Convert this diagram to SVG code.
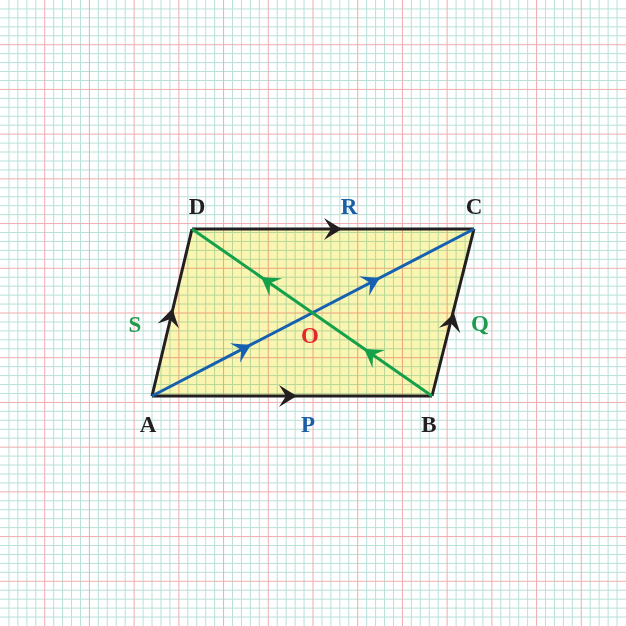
<svg xmlns="http://www.w3.org/2000/svg" xmlns:xlink="http://www.w3.org/1999/xlink" width="626" height="626" viewBox="0 0 626 626">
<style>
.lbl{font-family:"Liberation Serif","Times New Roman",serif;font-weight:bold;font-size:23px;text-anchor:middle}
.k{fill:#231f20}.b{fill:#1a5ea8}.g{fill:#1f9a4e}.r{fill:#e3262b}
.edge{stroke:#231f20;stroke-width:3;fill:none;stroke-linejoin:miter}
.diagB{stroke:#1560b0;stroke-width:3;fill:none}
.diagG{stroke:#15a04a;stroke-width:3;fill:none}
.minor{stroke:#b9e0d9;stroke-width:1;fill:none}
.major{stroke:#eeacb0;stroke-width:1;fill:none}
</style>
<defs>
<path id="ah" d="M0,0 Q-8,-4.6 -18,-11 L-11,0 L-18,11 Q-8,4.6 0,0 Z"/>
<path id="vminor" d="M8.94,0V626M17.89,0V626M26.83,0V626M35.77,0V626M53.66,0V626M62.6,0V626M71.54,0V626M80.49,0V626M98.37,0V626M107.31,0V626M116.26,0V626M125.2,0V626M143.09,0V626M152.03,0V626M160.97,0V626M169.91,0V626M187.8,0V626M196.74,0V626M205.69,0V626M214.63,0V626M232.51,0V626M241.46,0V626M250.4,0V626M259.34,0V626M277.23,0V626M286.17,0V626M295.11,0V626M304.06,0V626M321.94,0V626M330.89,0V626M339.83,0V626M348.77,0V626M366.66,0V626M375.6,0V626M384.54,0V626M393.49,0V626M411.37,0V626M420.31,0V626M429.26,0V626M438.2,0V626M456.09,0V626M465.03,0V626M473.97,0V626M482.91,0V626M500.8,0V626M509.74,0V626M518.69,0V626M527.63,0V626M545.51,0V626M554.46,0V626M563.4,0V626M572.34,0V626M590.23,0V626M599.17,0V626M608.11,0V626M617.06,0V626"/>
<path id="vmajor" d="M44.71,0V626M89.43,0V626M134.14,0V626M178.86,0V626M223.57,0V626M268.29,0V626M313,0V626M357.71,0V626M402.43,0V626M447.14,0V626M491.86,0V626M536.57,0V626M581.29,0V626"/>
</defs>
<rect width="626" height="626" fill="#ffffff"/>
<g id="grid">
<use href="#vminor" xlink:href="#vminor" class="minor"/>
<use href="#vminor" xlink:href="#vminor" class="minor" transform="matrix(0,1,1,0,0,0)"/>
<use href="#vmajor" xlink:href="#vmajor" class="major"/>
<use href="#vmajor" xlink:href="#vmajor" class="major" transform="matrix(0,1,1,0,0,0)"/>
</g>
<g id="parallelogram-ABCD">
<polygon points="152,396 432,396 474,229 192,229" fill="#fbf5b2" style="mix-blend-mode:multiply"/>
</g>
<g id="connectors">
<g id="edge-AB"><line class="edge" x1="152" y1="396" x2="432" y2="396"/><use xlink:href="#ah" href="#ah" fill="#231f20" transform="translate(297,396)"/></g>
<g id="edge-DC"><line class="edge" x1="192" y1="229" x2="474" y2="229"/><use xlink:href="#ah" href="#ah" fill="#231f20" transform="translate(342,229)"/></g>
<g id="edge-AD"><line class="edge" x1="152" y1="396" x2="192" y2="229"/><use xlink:href="#ah" href="#ah" fill="#231f20" transform="translate(172.5,308.5) rotate(-76.5)"/></g>
<g id="edge-BC"><line class="edge" x1="432" y1="396" x2="474" y2="229"/><use xlink:href="#ah" href="#ah" fill="#231f20" transform="translate(454,313) rotate(-75.9)"/></g>
<g id="diag-AC"><line class="diagB" x1="152" y1="396" x2="474" y2="229"/>
<use xlink:href="#ah" href="#ah" fill="#1560b0" transform="translate(251,344.7) rotate(-27.4)"/>
<use xlink:href="#ah" href="#ah" fill="#1560b0" transform="translate(380,277.8) rotate(-27.4)"/></g>
<g id="diag-BD"><line class="diagG" x1="432" y1="396" x2="192" y2="229"/>
<use xlink:href="#ah" href="#ah" fill="#15a04a" transform="translate(261,277) rotate(-145.2)"/>
<use xlink:href="#ah" href="#ah" fill="#15a04a" transform="translate(364,348.7) rotate(-145.2)"/></g>
</g>
<g id="node-A"><text class="lbl k" x="148" y="432">A</text></g>
<g id="node-B"><text class="lbl k" x="429" y="432">B</text></g>
<g id="node-C"><text class="lbl k" x="474" y="214">C</text></g>
<g id="node-D"><text class="lbl k" x="197" y="214">D</text></g>
<g id="node-P"><text class="lbl b" x="308" y="432">P</text></g>
<g id="node-R"><text class="lbl b" x="349" y="214">R</text></g>
<g id="node-S"><text class="lbl g" x="135" y="332">S</text></g>
<g id="node-Q"><text class="lbl g" x="480" y="331">Q</text></g>
<g id="node-O"><text class="lbl r" x="310" y="343">O</text></g>
</svg>
